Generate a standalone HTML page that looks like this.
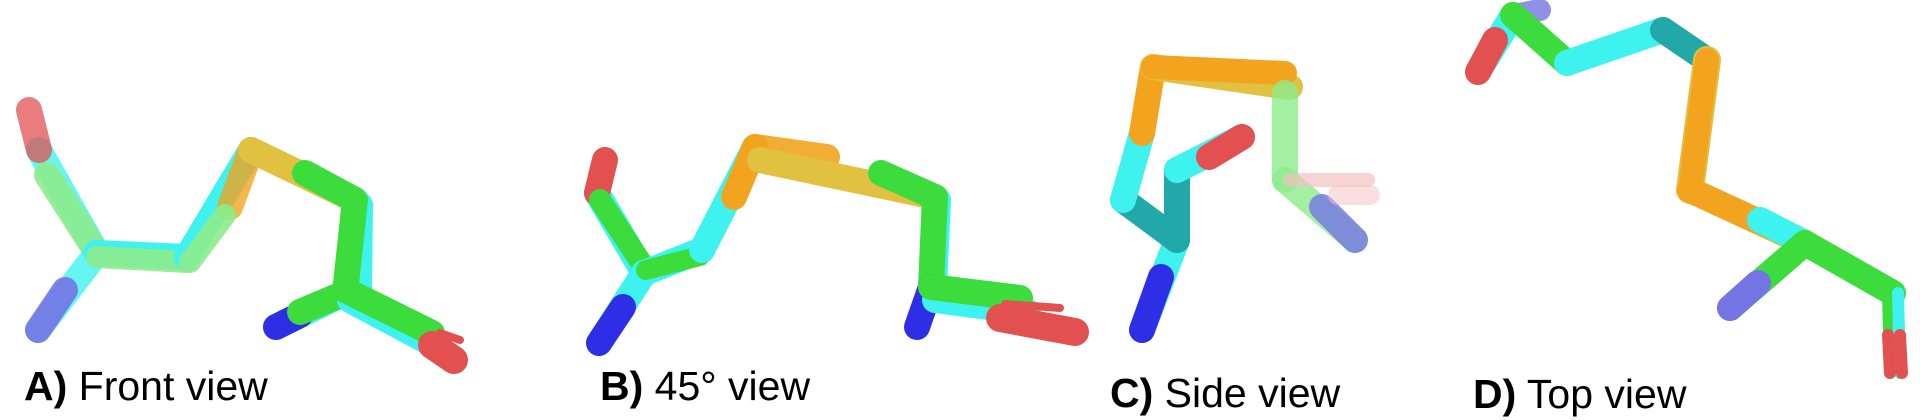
<!DOCTYPE html>
<html><head><meta charset="utf-8">
<style>
html,body{margin:0;padding:0;background:#fff;}
svg{display:block;}
text{font-family:"Liberation Sans",Arial,sans-serif;font-size:41px;fill:#000;}
</style></head>
<body>
<svg width="1920" height="420" viewBox="0 0 1920 420">
<defs>
<filter id="soft" x="-20%" y="-20%" width="140%" height="140%"><feGaussianBlur stdDeviation="0.6"/></filter>
</defs>
<g id="root" stroke-linecap="round" stroke-linejoin="round" fill="none"></g>
<text x="24" y="400"><tspan font-weight="bold">A)</tspan> Front view</text>
<text x="600" y="400"><tspan font-weight="bold">B)</tspan> 45° view</text>
<text x="1110" y="407"><tspan font-weight="bold">C)</tspan> Side view</text>
<text x="1473" y="408"><tspan font-weight="bold">D)</tspan> Top view</text>
</svg>
<script>
const C={cy:'#3ef2f0',gr:'#3ddc3d',lg:'#8cec8c',or:'#f2a41e',ye:'#e2c040',rd:'#e25050',bl:'#2e2ee6',fb:'#7474e4',tc:'#22a8a8',fr:'#f4c0c0'};
// segments: [x1,y1,x2,y2,color,width,opacity]
const panelA=[
[97,253,39,150,'cy',26,0.8],[39,150,29,110,'rd',26,0.75],[97,253,47,175,'lg',26,0.9],
[97,253,38,330,'cy',26,0.8],[65,290,38,330,'fb',26,0.9],
[97,253,187,257,'cy',26,1],[97,257,187,262,'lg',22,0.9],
[187,257,251,150,'cy',26,1],[230,207,251,150,'or',26,0.8],[190,262,225,215,'lg',22,0.9],
[251,150,355,200,'ye',26,1],[305,173,355,200,'gr',26,1],
[360,205,359,293,'cy',26,1],[355,200,345,293,'gr',26,1],
[345,293,276,327,'cy',26,1],[300,315,276,327,'bl',26,1],[345,293,300,312,'gr',26,1],
[350,300,438,347,'cy',26,1],[345,290,432,333,'gr',26,1],
[432,345,454,360,'rd',28,1],[440,333,460,340,'rd',8,1]
];
const panelB=[
[644,273,597,193,'cy',26,1],[597,193,605,160,'rd',26,1],[646,270,600,200,'gr',22,1],
[644,273,599,343,'cy',26,1],[623,307,599,343,'bl',26,1],
[644,273,702,250,'cy',26,1],[646,270,700,256,'gr',20,1],
[702,250,755,147,'cy',26,1],[734,197,755,147,'or',26,1],
[755,147,827,157,'or',26,0.9],[760,160,935,197,'ye',26,1],[881,173,935,197,'gr',26,1],
[938,200,934,287,'cy',26,1],[935,197,931,287,'gr',26,1],
[931,287,917,327,'bl',26,1],[935,300,1028,312,'cy',26,1],[931,287,1020,298,'gr',26,1],
[1000,318,1075,332,'rd',28,1],[1005,304,1060,308,'rd',8,1]
];
const panelC=[
[1177,240,1142,330,'cy',26,1],[1161,277,1142,330,'bl',26,1],
[1177,240,1177,170,'tc',26,1],[1177,170,1242,137,'cy',26,1],[1209,157,1242,137,'rd',26,1],
[1177,240,1123,200,'tc',26,1],[1123,200,1142,133,'cy',26,1],[1142,133,1153,67,'or',26,1],
[1153,67,1290,87,'ye',26,1],[1153,67,1285,73,'or',24,1],
[1285,93,1285,180,'lg',26,0.8],[1285,180,1355,240,'lg',26,0.8],[1322,207,1355,240,'fb',26,0.8],
[1290,180,1368,180,'fr',14,0.7],[1338,195,1370,195,'fr',20,0.5]
];
const panelD=[
[1513,15,1478,72,'cy',26,1],[1495,40,1478,72,'rd',26,1],[1513,15,1540,10,'fb',22,0.8],
[1513,15,1567,63,'gr',26,1],[1567,63,1663,30,'cy',26,1],
[1663,30,1707,60,'tc',26,1],[1707,60,1690,190,'ye',28,1],[1707,60,1690,190,'or',24,1],
[1690,190,1805,243,'or',26,1],[1760,220,1805,243,'cy',26,1],
[1805,243,1893,293,'gr',26,1],[1805,243,1730,308,'gr',26,1],[1758,283,1730,308,'fb',26,1],
[1888,293,1890,373,'gr',12,1],[1898,293,1900,373,'cy',12,1],
[1888,335,1890,373,'rd',12,1],[1900,335,1902,373,'rd',12,1]
];
const root=document.getElementById('root');
const NS='http://www.w3.org/2000/svg';
function draw(arr,name){
  const g=document.createElementNS(NS,'g');
  
  
  arr.forEach(s=>{
    const l=document.createElementNS(NS,'line');
    l.setAttribute('x1',s[0]);l.setAttribute('y1',s[1]);l.setAttribute('x2',s[2]);l.setAttribute('y2',s[3]);
    l.setAttribute('stroke',C[s[4]]);l.setAttribute('stroke-width',s[5]);l.setAttribute('opacity',s[6]);
    
    
    g.appendChild(l);
  });
  root.appendChild(g);
}
draw(panelA,'front-view-molecule');
draw(panelB,'45-degree-view-molecule');
draw(panelC,'side-view-molecule');
draw(panelD,'top-view-molecule');
</script>
</body></html>
